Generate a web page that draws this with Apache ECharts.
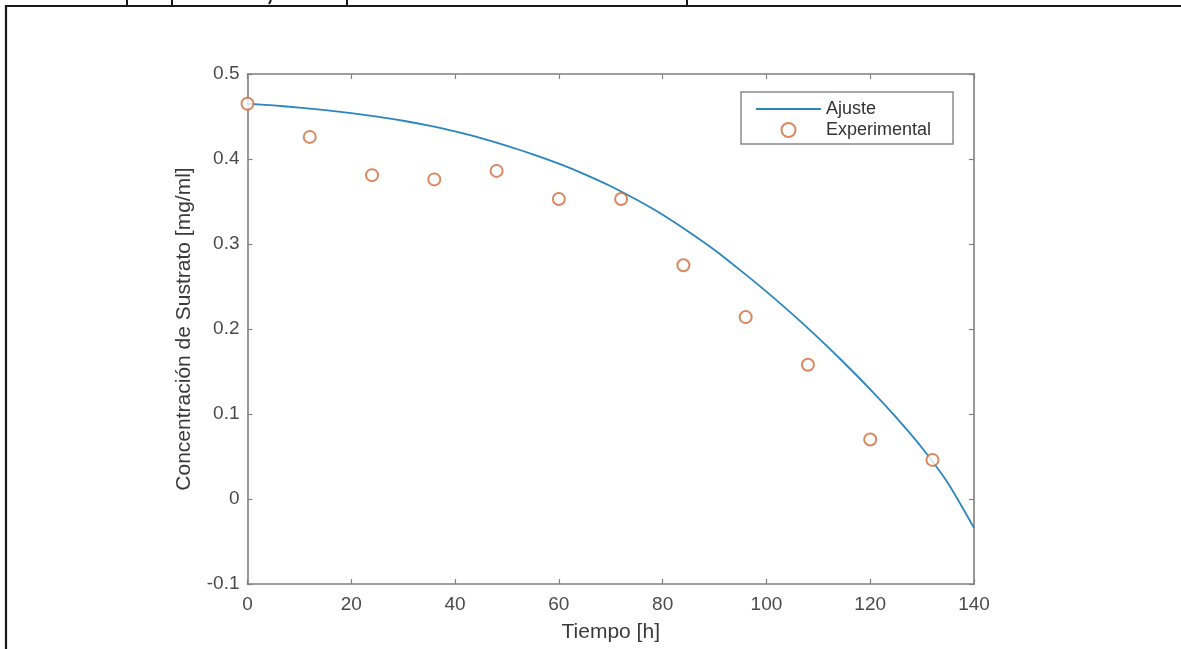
<!DOCTYPE html>
<html>
<head>
<meta charset="utf-8">
<script src="https://cdn.jsdelivr.net/npm/echarts@6/dist/echarts.min.js"></script>
<style>html,body{margin:0;padding:0;background:#fff;}#c{width:1181px;height:649px;}</style>
</head>
<body>
<div id="c"></div>
<script>
// Fitted curve (Ajuste): time [h] and concentration [mg/ml]
const fitTime = [0,5,10,15,20,25,30,35,40,45,50,55,60,65,70,75,80,85,90,95,100,105,110,115,120,125,130,135,140];
const fitConc = [0.465,0.463,0.4605,0.4575,0.454,0.4498,0.445,0.4392,0.4325,0.4245,0.4155,0.4055,0.3945,0.382,0.368,0.352,0.3345,0.3145,0.293,0.269,0.244,0.2175,0.1895,0.160,0.129,0.096,0.060,0.0185,-0.034];
// Experimental points
const expTime = [0,12,24,36,48,60,72,84,96,108,120,132];
const expConc = [0.465,0.426,0.381,0.376,0.386,0.353,0.353,0.275,0.214,0.158,0.070,0.046];
// Axis ticks
const xTicks = [0,20,40,60,80,100,120,140];
const yTicks = [-0.1,0,0.1,0.2,0.3,0.4,0.5];

const lineColor = '#2a86bd';
const dotColor = '#cf6b3b';
const axisColor = '#808080';
const labelColor = '#4a4a4a';
const font = 'Liberation Sans, Arial, sans-serif';

const chart = echarts.init(document.getElementById('c'), null, {renderer: 'canvas'});

const axisCommon = {
  axisLine: {show: true, onZero: false, lineStyle: {color: axisColor, width: 1.6}},
  axisTick: {show: true, inside: true, length: 5, lineStyle: {color: axisColor, width: 1.2}},
  splitLine: {show: false}
};

chart.setOption({
  animation: false,
  backgroundColor: '#fff',
  grid: {left: 247.5, right: 207, top: 74, bottom: 65, containLabel: false},
  legend: {
    orient: 'vertical',
    left: 741, top: 92,
    padding: [8, 22, 5, 14],
    itemGap: 3,
    itemWidth: 65, itemHeight: 14,
    backgroundColor: '#fff',
    borderColor: '#8a8a8a', borderWidth: 1.5, borderRadius: 0,
    textStyle: {fontFamily: font, fontSize: 18, color: '#333'},
    data: [
      {name: 'Ajuste', itemStyle: {opacity: 0}},
      {name: 'Experimental', icon: 'emptyCircle'}
    ]
  },
  xAxis: [
    Object.assign({}, axisCommon, {
      type: 'value', min: xTicks[0], max: xTicks[xTicks.length-1], interval: 20,
      position: 'bottom',
      name: 'Tiempo [h]', nameLocation: 'middle', nameGap: 38,
      nameTextStyle: {fontFamily: font, fontSize: 21, color: '#3a3a3a'},
      axisLabel: {fontFamily: font, fontSize: 19, color: labelColor, margin: 11}
    }),
    Object.assign({}, axisCommon, {
      type: 'value', min: xTicks[0], max: xTicks[xTicks.length-1], interval: 20,
      position: 'top', axisLabel: {show: false}
    })
  ],
  yAxis: [
    Object.assign({}, axisCommon, {
      type: 'value', min: yTicks[0], max: yTicks[yTicks.length-1], interval: 0.1,
      position: 'left',
      name: 'Concentración de Sustrato [mg/ml]', nameLocation: 'middle', nameGap: 53,
      nameTextStyle: {fontFamily: font, fontSize: 21, color: '#3a3a3a'},
      axisLabel: {fontFamily: font, fontSize: 19, color: labelColor, margin: 8,
        formatter: v => (Math.abs(v) < 1e-9 ? '0' : String(Math.round(v*10)/10))}
    }),
    Object.assign({}, axisCommon, {
      type: 'value', min: yTicks[0], max: yTicks[yTicks.length-1], interval: 0.1,
      position: 'right', axisLabel: {show: false}
    })
  ],
  series: [
    {
      name: 'Ajuste', type: 'line', xAxisIndex: 0, yAxisIndex: 0,
      data: fitTime.map((t, i) => [t, fitConc[i]]),
      showSymbol: false, symbol: 'none', smooth: 0.2,
      lineStyle: {color: lineColor, width: 1.8},
      itemStyle: {color: lineColor},
      z: 2
    },
    {
      name: 'Experimental', type: 'scatter', xAxisIndex: 0, yAxisIndex: 0,
      data: expTime.map((t, i) => [t, expConc[i]]),
      symbol: 'emptyCircle', symbolSize: 12,
      itemStyle: {color: dotColor, borderColor: dotColor, borderWidth: 1.5},
      z: 3
    }
  ],
  graphic: [
    {type: 'rect', silent: true, shape: {x: 6, y: 6, width: 1190, height: 660},
     style: {fill: 'none', stroke: '#1a1a1a', lineWidth: 2.2}},
    {type: 'line', silent: true, shape: {x1: 127, y1: 0, x2: 127, y2: 6}, style: {stroke: '#1a1a1a', lineWidth: 2}},
    {type: 'line', silent: true, shape: {x1: 172, y1: 0, x2: 172, y2: 6}, style: {stroke: '#1a1a1a', lineWidth: 2}},
    {type: 'line', silent: true, shape: {x1: 271, y1: 0, x2: 269, y2: 4}, style: {stroke: '#1a1a1a', lineWidth: 2}},
    {type: 'line', silent: true, shape: {x1: 347, y1: 0, x2: 347, y2: 6}, style: {stroke: '#1a1a1a', lineWidth: 2}},
    {type: 'line', silent: true, shape: {x1: 687, y1: 0, x2: 687, y2: 6}, style: {stroke: '#1a1a1a', lineWidth: 2}}
  ]
});
</script>
</body>
</html>
